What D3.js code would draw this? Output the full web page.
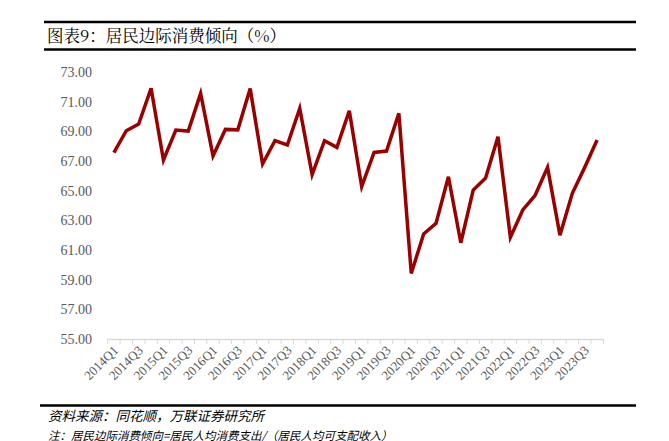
<!DOCTYPE html>
<html><head><meta charset="utf-8">
<script src="https://cdn.jsdelivr.net/npm/d3@7"></script>
<style>body{margin:0;background:#fff}</style>
</head><body>
<svg id="c" width="669" height="441"></svg>
<script>
const categories = [];
for (let y = 2014; y <= 2023; y++) for (let q = 1; q <= 4; q++) categories.push(y + "Q" + q);
const values = [67.56,69.04,69.49,71.90,67.07,69.09,69.02,71.56,67.34,69.13,69.10,71.88,
  66.80,68.37,68.08,70.55,66.08,68.37,67.92,70.39,65.27,67.58,67.67,70.21,
  59.42,62.08,62.80,65.94,61.49,65.04,65.85,68.64,61.85,63.70,64.69,66.57,
  62.00,64.82,66.57,68.41];
const yTicks = [55,57,59,61,63,65,67,69,71,73];
const title = "图表9：居民边际消费倾向（%）";
const source = "资料来源：同花顺，万联证券研究所";
const note = "注：居民边际消费倾向=居民人均消费支出/（居民人均可支配收入）";

const svg = d3.select("#c");
const x = d3.scaleBand().domain(categories).range([107.7, 603.3]);
const y = d3.scaleLinear().domain([55, 73]).range([339, 72]);

// frame lines
svg.append("line").attr("x1",44).attr("x2",636).attr("y1",22).attr("y2",22).attr("stroke","#000").attr("stroke-width",2.5);
svg.append("line").attr("x1",44).attr("x2",636).attr("y1",49.5).attr("y2",49.5).attr("stroke","#000").attr("stroke-width",2.5);
svg.append("line").attr("x1",40).attr("x2",636).attr("y1",405.5).attr("y2",405.5).attr("stroke","#000").attr("stroke-width",2.5);
svg.append("text").attr("x",47).attr("y",42).attr("font-family","Noto Serif CJK SC, Noto Sans CJK SC").attr("font-size",16.5).attr("fill","#000").text(title);
svg.append("text").attr("x",48).attr("y",421).attr("font-family","Noto Sans CJK SC").attr("font-size",13.5).attr("font-style","italic").attr("fill","#000").text(source);
svg.append("text").attr("x",48).attr("y",439.5).attr("font-family","Noto Sans CJK SC").attr("font-size",11.5).attr("font-style","italic").attr("fill","#000").text(note);

// y axis labels
const yAxis = d3.axisLeft(y).tickValues(yTicks).tickFormat(d3.format(".2f")).tickSize(0).tickPadding(0);
const ga = svg.append("g").attr("transform","translate(92,0)").call(yAxis);
ga.select(".domain").remove();
ga.selectAll("text").attr("font-family","Liberation Serif").attr("font-size",14).attr("fill","#595959");

// x axis
const xAxis = d3.axisBottom(x).tickSize(0).tickFormat((d,i)=> i%2===0 ? d : "");
const gx = svg.append("g").attr("transform","translate(0,339)").call(xAxis);
gx.select(".domain").attr("stroke","#d9d9d9").attr("stroke-width",1.5);
gx.selectAll("text").attr("font-family","Liberation Serif").attr("font-size",13).attr("fill","#595959")
  .attr("text-anchor","end").attr("dy","0").attr("dx","0")
  .attr("transform","translate(3,10) rotate(-45)");
// boundary ticks
const bounds = categories.map(c => x(c)).concat([x.range()[1]]);
svg.append("g").selectAll("line").data(bounds).join("line")
  .attr("x1",d=>d).attr("x2",d=>d).attr("y1",339).attr("y2",344)
  .attr("stroke","#d9d9d9").attr("stroke-width",1);

// line
const line = d3.line().x((d,i)=>x(categories[i]) + x.bandwidth()/2).y(d=>y(d));
svg.append("path").datum(values).attr("d",line).attr("fill","none")
  .attr("stroke","#990000").attr("stroke-width",3.5).attr("stroke-linejoin","miter");
</script>
</body></html>
